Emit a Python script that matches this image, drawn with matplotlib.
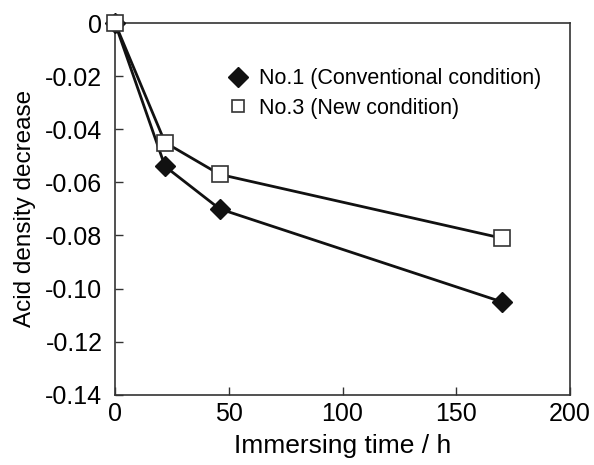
import matplotlib
matplotlib.use('Agg')
import matplotlib.pyplot as plt

# datos
tiempo = [0, 22, 46, 170]
no1 = [0, -0.054, -0.070, -0.105]
no3 = [0, -0.045, -0.057, -0.081]
etiquetas = ['No.1 (Conventional condition)', 'No.3 (New condition)']
yticks = [0, -0.02, -0.04, -0.06, -0.08, -0.10, -0.12, -0.14]
xticks = [0, 50, 100, 150, 200]

plt.rcParams['font.family'] = ['Liberation Sans', 'DejaVu Sans']

fig = plt.figure(figsize=(5.94, 4.65), dpi=100)
ax = fig.add_axes([0.1936, 0.151, 0.766, 0.7995])

ax.plot(tiempo, no1, color='#111111', lw=2, marker='D', ms=10,
        mfc='#111111', mec='#111111', label=etiquetas[0], zorder=3, clip_on=False)
ax.plot(tiempo, no3, color='#111111', lw=2, marker='s', ms=11,
        mfc='white', mec='#333333', mew=1.2, label=etiquetas[1], zorder=4, clip_on=False)

ax.set_xlim(0, 200)
ax.set_ylim(-0.14, 0)
ax.set_xticks(xticks)
ax.set_yticks(yticks)
ax.set_yticklabels(['0' if v == 0 else f'{v:.2f}' for v in yticks])
ax.tick_params(direction='in', length=6, width=1, labelsize=18, color='#333333')
ax.tick_params(axis='y', pad=9)
ax.tick_params(axis='x', pad=5)
for s in ax.spines.values():
    s.set_color('#333333')
    s.set_linewidth(1.2)

ax.set_xlabel('Immersing time / h', fontsize=19, labelpad=6)
ax.set_ylabel('Acid density decrease', fontsize=17.5, labelpad=7)

leg = ax.legend(loc='upper left', bbox_to_anchor=(0.205, 0.93), frameon=False,
                fontsize=15.5, handlelength=1.0, handletextpad=0.45, labelspacing=0.4)
for l in leg.get_lines():
    l.set_linestyle('none')
leg.legend_handles[0].set_markersize(10)
leg.legend_handles[1].set_markersize(9)

fig.savefig('out.png', dpi=100)
